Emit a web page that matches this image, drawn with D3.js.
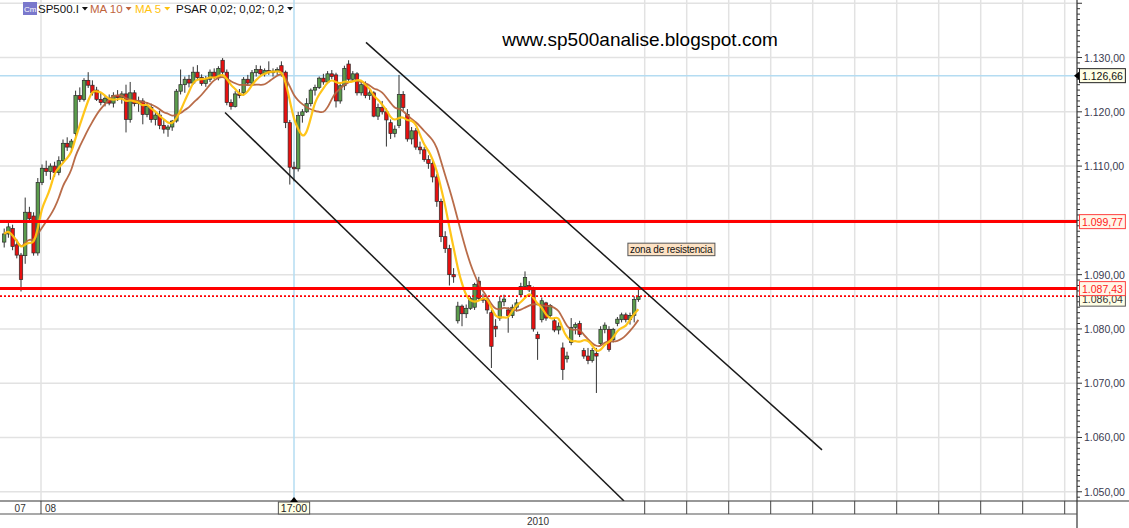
<!DOCTYPE html>
<html><head><meta charset="utf-8">
<script src="https://cdn.jsdelivr.net/npm/d3@7"></script>
<style>
body{margin:0;background:#fff;}
svg{display:block;font-family:"Liberation Sans",Arial,sans-serif;}
</style>
</head><body>
<svg id="c" width="1129" height="528"></svg>
<script>
// ---------- DATA ----------
const firstBar = 1;
const opens = [
1096.0,1097.5,1098.5,1095.5,1093.6,1093.5,1101.5,1100.8,1094.0,1107.0,
1109.6,1109.0,1110.0,1108.8,1111.0,1114.2,1113.5,1116.0,1123.0,1122.3,
1125.8,1124.9,1124.0,1122.3,1121.7,1122.5,1121.6,1123.0,1122.6,1123.3,
1118.6,1123.5,1121.5,1122.0,1119.5,1120.8,1118.6,1119.4,1117.5,1116.8,
1117.2,1118.3,1123.8,1125.0,1126.0,1125.3,1127.3,1126.3,1125.2,1126.0,
1127.3,1126.3,1129.5,1127.3,1121.7,1121.0,1123.3,1123.5,1126.0,1125.3,
1127.2,1127.8,1127.0,1127.6,1127.2,1127.5,1128.5,1127.3,1118.0,1109.8,
1109.5,1119.3,1120.0,1121.5,1124.0,1124.5,1126.2,1125.5,1127.0,1126.8,
1122.0,1124.8,1128.8,1126.0,1127.0,1123.5,1125.0,1123.0,1123.5,1119.2,
1120.8,1120.0,1118.0,1116.0,1117.5,1123.2,1119.5,1115.0,1116.5,1113.5,
1113.0,1111.2,1110.5,1108.0,1103.5,1097.0,1094.8,1090.0,1081.5,1084.2,
1082.8,1083.8,1084.0,1088.8,1085.6,1085.3,1083.0,1080.5,1082.0,1085.0,
1083.5,1082.5,1084.0,1086.3,1087.8,1088.0,1087.2,1079.0,1081.7,1084.8,
1082.5,1081.5,1079.8,1076.5,1074.5,1077.5,1080.3,1081.0,1076.0,1075.0,
1074.2,1075.5,1077.3,1079.9,1079.9,1078.0,1081.0,1081.7,1082.6,1081.7,
1082.5,1085.4];
const highs = [
1098.5,1099.5,1099.2,1096.5,1094.0,1104.2,1102.5,1101.5,1107.8,1110.3,
1111.0,1110.5,1110.8,1111.8,1114.9,1115.3,1115.0,1123.9,1124.5,1126.2,
1127.3,1125.8,1124.6,1123.5,1123.0,1123.2,1123.6,1124.0,1123.8,1125.0,
1125.5,1124.0,1122.8,1122.5,1121.8,1121.5,1120.0,1120.2,1118.5,1117.6,
1118.5,1124.2,1127.8,1126.5,1126.8,1128.3,1128.6,1126.9,1126.6,1127.8,
1128.0,1128.4,1129.9,1127.8,1122.3,1123.8,1124.2,1126.4,1126.8,1127.7,
1128.6,1128.5,1128.0,1129.3,1128.0,1128.2,1129.3,1127.6,1118.5,1110.8,
1120.0,1120.5,1122.5,1124.3,1125.0,1126.5,1127.0,1127.5,1127.7,1127.2,
1125.5,1128.5,1129.5,1127.5,1127.3,1125.5,1125.6,1124.0,1123.8,1121.5,
1122.0,1120.6,1118.6,1117.5,1126.8,1123.8,1120.5,1117.2,1117.0,1114.5,
1113.5,1112.0,1111.0,1108.5,1104.0,1098.0,1095.5,1091.2,1085.0,1084.5,
1084.5,1086.0,1088.5,1089.6,1086.5,1085.8,1083.5,1081.8,1086.0,1086.3,
1084.0,1084.5,1085.5,1088.5,1090.6,1088.8,1087.8,1079.5,1085.8,1085.0,
1084.6,1082.0,1081.2,1077.5,1075.8,1082.0,1081.2,1081.5,1076.5,1076.5,
1076.5,1076.5,1080.5,1081.2,1080.5,1080.2,1082.2,1083.0,1083.0,1083.0,
1086.0,1087.6];
const lows = [
1095.0,1096.8,1094.5,1093.0,1086.9,1092.0,1099.8,1093.5,1093.5,1106.5,
1108.2,1107.5,1108.0,1108.3,1110.5,1112.8,1112.5,1115.5,1121.8,1121.9,
1124.4,1123.0,1122.0,1121.2,1121.0,1121.2,1120.8,1122.0,1121.5,1116.2,
1118.0,1121.0,1120.0,1117.7,1119.0,1118.0,1117.5,1116.8,1116.0,1115.4,
1116.5,1118.0,1123.2,1123.5,1124.5,1125.0,1126.0,1124.8,1124.6,1125.5,
1126.0,1125.8,1126.8,1121.2,1120.4,1120.8,1122.5,1123.0,1124.8,1125.0,
1126.5,1126.8,1126.5,1126.8,1126.5,1126.8,1126.5,1117.0,1106.6,1107.2,
1109.0,1118.0,1119.8,1121.0,1123.0,1124.2,1125.0,1125.2,1126.0,1120.8,
1121.5,1124.0,1125.5,1125.5,1123.0,1123.0,1122.5,1122.2,1119.0,1118.5,
1119.5,1113.6,1115.0,1115.3,1117.0,1120.2,1114.5,1114.0,1113.0,1112.2,
1110.8,1109.5,1107.0,1102.5,1096.0,1094.0,1088.0,1088.5,1081.0,1080.5,
1082.0,1083.5,1083.5,1085.2,1084.8,1082.8,1072.8,1078.5,1081.5,1084.2,
1079.3,1082.0,1083.2,1085.8,1087.3,1086.8,1079.5,1074.3,1081.2,1081.5,
1082.0,1079.4,1079.0,1070.6,1073.8,1077.0,1079.0,1078.5,1074.5,1073.5,
1073.8,1068.2,1077.0,1079.2,1075.8,1077.5,1080.5,1081.2,1081.2,1080.8,
1081.2,1085.0];
const closes = [
1097.5,1098.8,1095.2,1093.6,1089.1,1101.5,1100.3,1094.0,1107.0,1109.6,
1109.0,1110.0,1108.8,1111.0,1114.2,1113.5,1114.6,1123.0,1122.3,1125.8,
1124.9,1123.5,1122.3,1121.7,1122.5,1121.6,1123.0,1122.6,1123.3,1118.6,
1123.5,1121.5,1122.0,1119.5,1121.0,1118.6,1119.4,1117.5,1116.8,1117.2,
1118.3,1123.8,1125.0,1126.0,1125.3,1127.3,1126.3,1125.2,1126.0,1127.3,
1126.3,1128.0,1127.3,1121.7,1121.0,1123.3,1123.0,1126.0,1125.3,1127.2,
1127.8,1127.0,1127.6,1127.2,1127.5,1127.8,1127.3,1118.0,1109.8,1109.5,
1119.3,1120.0,1121.5,1124.0,1124.5,1126.2,1125.5,1127.0,1126.5,1122.0,
1124.8,1128.0,1126.0,1127.0,1123.5,1125.0,1123.0,1123.5,1119.2,1120.8,
1120.0,1118.5,1116.0,1116.8,1123.2,1120.8,1115.0,1116.5,1113.5,1113.0,
1111.2,1110.5,1108.0,1103.5,1097.0,1094.8,1090.0,1089.6,1084.2,1082.8,
1083.8,1085.6,1088.2,1085.6,1085.3,1083.5,1076.8,1080.0,1085.0,1085.5,
1082.5,1084.0,1084.8,1087.8,1089.5,1087.2,1080.0,1078.2,1085.2,1082.0,
1084.3,1079.8,1080.5,1072.5,1075.0,1080.3,1080.8,1079.0,1075.0,1074.2,
1076.0,1075.0,1079.9,1080.7,1076.2,1079.9,1081.8,1082.6,1081.7,1082.5,
1085.4,1086.0];

const maPeriods = [10, 5];
const legendItems = ["SP500.I", "MA 10", "MA 5", "PSAR 0,02; 0,02; 0,2"];
const priceGrid = [1050,1060,1070,1080,1090,1100,1110,1120,1130,1140];
const priceLabels = [1050,1060,1070,1080,1090,1100,1110,1120,1130];
const levels = [1099.77, 1087.43];
const dottedLevel = 1086.04;
const crossPrice = 1126.66;
const crossBar = 70;
const crossLabel = "17:00";
const dayLabels = ["07", "08"];
const dayLabelBars = [4.8, 10.7];
const daySeparators = [9.76];
const futureGrid = [153.5,163.5,173.5,183.5,193.5,203.5,213.5,223.5,233.5,243.5,253.5];
const yearLabel = "2010";
const yearBar = 128.1;
const upperTrend = [[87.14, 1132.8], [195.71, 1057.71]];
const lowerTrend = [[53.57, 1119.89], [148.57, 1048.3]];
const noteText = "zona de resistencia";
const notePos = [149.5, 1095.8];
const titleText = "www.sp500analise.blogspot.com";

// ---------- SETUP ----------
const svg = d3.select("#c");
const plotR = 1077, plotB = 501, rowB = 514;
const x = d3.scaleLinear().domain([0, 256]).range([0, 1075.2]);
const y = d3.scaleLinear().domain([1048.3, 1140.6]).range([plotB, 0]);
const loc = d3.formatLocale({decimal: ",", thousands: ".", grouping: [3], currency: ["", ""]});
const fmt = loc.format(",.2f");

const bars = closes.map((c, k) => ({i: k + firstBar, o: opens[k], h: highs[k], l: lows[k], c}));

svg.append("defs").append("clipPath").attr("id", "clip")
  .append("rect").attr("x", 0).attr("y", 0).attr("width", plotR).attr("height", plotB);

const plot = svg.append("g").attr("clip-path", "url(#clip)");

// grid
plot.selectAll("line.hg").data(priceGrid).join("line")
  .attr("x1", 0).attr("x2", plotR).attr("y1", d => y(d)).attr("y2", d => y(d))
  .attr("stroke", "#e2e2e2").attr("stroke-width", 1.5);
plot.selectAll("line.vg").data(daySeparators.concat(futureGrid)).join("line")
  .attr("x1", d => x(d)).attr("x2", d => x(d)).attr("y1", 0).attr("y2", plotB)
  .attr("stroke", "#e2e2e2").attr("stroke-width", 1.5);

// crosshair
plot.append("line").attr("x1", 0).attr("x2", plotR).attr("y1", y(crossPrice)).attr("y2", y(crossPrice))
  .attr("stroke", "#b4dcf2").attr("stroke-width", 1.5);
plot.append("line").attr("x1", x(crossBar)).attr("x2", x(crossBar)).attr("y1", 0).attr("y2", plotB)
  .attr("stroke", "#b4dcf2").attr("stroke-width", 1.5);

// candles
const cg = plot.append("g");
cg.selectAll("line.w").data(bars).join("line")
  .attr("x1", d => x(d.i)).attr("x2", d => x(d.i))
  .attr("y1", d => y(d.h)).attr("y2", d => y(d.l))
  .attr("stroke", "#333").attr("stroke-width", 1);
cg.selectAll("rect").data(bars).join("rect")
  .attr("x", d => x(d.i) - 1.7).attr("width", 3.4)
  .attr("y", d => y(Math.max(d.o, d.c)))
  .attr("height", d => Math.max(1, Math.abs(y(d.o) - y(d.c))))
  .attr("fill", d => d.c >= d.o ? "#5b9c4c" : "#e81010")
  .attr("stroke", "#2a2a2a").attr("stroke-width", 0.7);

// moving averages
function sma(arr, n) {
  return arr.map((_, k) => d3.mean(arr.slice(Math.max(0, k - n + 1), k + 1)));
}
const maColors = ["#b5643f", "#ffc20e"];
const maWidths = [1.8, 2.2];
maPeriods.forEach((p, j) => {
  const vals = sma(closes, p);
  const line = d3.line().x((d, k) => x(k + firstBar)).y(d => y(d)).curve(d3.curveBasis);
  plot.append("path").datum(vals).attr("d", line).attr("fill", "none")
    .attr("stroke", maColors[j]).attr("stroke-width", maWidths[j]).attr("stroke-opacity", 0.95);
});

// resistance levels
plot.selectAll("line.lv").data(levels).join("line")
  .attr("x1", 0).attr("x2", plotR).attr("y1", d => y(d)).attr("y2", d => y(d))
  .attr("stroke", "#ff0000").attr("stroke-width", 3);
plot.append("line").attr("x1", 0).attr("x2", plotR).attr("y1", y(dottedLevel)).attr("y2", y(dottedLevel))
  .attr("stroke", "#ff0000").attr("stroke-width", 1.6).attr("stroke-dasharray", "2,2");

// trend lines
[upperTrend, lowerTrend].forEach(t => {
  plot.append("line")
    .attr("x1", x(t[0][0])).attr("y1", y(t[0][1]))
    .attr("x2", x(t[1][0])).attr("y2", y(t[1][1]))
    .attr("stroke", "#1a1a1a").attr("stroke-width", 1.5);
});

// annotation
const ng = svg.append("g");
const nt = ng.append("text").attr("x", x(notePos[0]) + 2).attr("y", y(notePos[1]) + 9.5)
  .attr("font-size", 10).attr("fill", "#111").attr("letter-spacing", -0.2).text(noteText);
const nb = nt.node().getBBox();
ng.insert("rect", "text").attr("x", x(notePos[0])).attr("y", y(notePos[1]))
  .attr("width", nb.width + 4).attr("height", 12.5)
  .attr("fill", "#fde2c4").attr("stroke", "#555").attr("stroke-width", 1);

// title
svg.append("text").attr("x", 640).attr("y", 46).attr("text-anchor", "middle")
  .attr("font-size", 19).attr("fill", "#000").text(titleText);

// legend
const lg = svg.append("g");
lg.append("rect").attr("x", 23).attr("y", 2).attr("width", 14).attr("height", 13).attr("fill", "#7a78cc");
lg.append("text").attr("x", 24).attr("y", 12).attr("font-size", 8).attr("fill", "#fff").text("Cm");
const legendX = [38, 90, 135, 176];
const legendColors = ["#111", "#c0643c", "#ffc20e", "#111"];
legendItems.forEach((t, j) => {
  const tx = lg.append("text").attr("x", legendX[j]).attr("y", 12.5).attr("font-size", 11.5)
    .attr("fill", legendColors[j]).text(t);
  const w = tx.node().getComputedTextLength();
  const ax = legendX[j] + w + 6;
  lg.append("path").attr("d", `M${ax-3},7 L${ax+3},7 L${ax},10.5 Z`).attr("fill", legendColors[j]);
});

// ---------- RIGHT AXIS ----------
const ax = svg.append("g");
ax.append("line").attr("x1", plotR).attr("x2", plotR).attr("y1", 0).attr("y2", 528)
  .attr("stroke", "#333").attr("stroke-width", 1.2);
const minor = d3.range(1049, 1141, 1);
ax.selectAll("line.mt").data(minor).join("line")
  .attr("x1", plotR).attr("x2", d => plotR + (d % 10 === 0 ? 5 : 3))
  .attr("y1", d => y(d)).attr("y2", d => y(d)).attr("stroke", "#333").attr("stroke-width", 1);
ax.selectAll("text.pl").data(priceLabels).join("text")
  .attr("x", 1084).attr("y", d => y(d) + 4).attr("font-size", 10.5).attr("fill", "#3a3a50")
  .text(d => fmt(d));

// price tags
function tag(val, color, fill, border, dy) {
  const g = ax.append("g");
  const t = g.append("text").attr("x", 1082).attr("y", y(val) + 4 + dy).attr("font-size", 10.5)
    .attr("fill", color).text(fmt(val));
  const w = t.node().getComputedTextLength();
  g.insert("rect", "text").attr("x", 1079.5).attr("y", y(val) - 7 + dy).attr("width", w + 5).attr("height", 14)
    .attr("fill", fill).attr("stroke", border).attr("stroke-width", 1);
}
tag(dottedLevel, "#333", "#ffffe6", "#555", 3);
tag(levels[1], "#ff2020", "#fff6e8", "#ff4040", 0);
tag(levels[0], "#ff2020", "#fff6e8", "#ff4040", 0);
tag(crossPrice, "#111", "#ffffe6", "#222", 0);
ax.append("path").attr("d", `M${plotR-3},${y(crossPrice)} L${plotR+2},${y(crossPrice)-4} L${plotR+2},${y(crossPrice)+4} Z`).attr("fill", "#000");

// ---------- BOTTOM AXIS ----------
const bx = svg.append("g");
bx.append("line").attr("x1", 0).attr("x2", 1129).attr("y1", plotB).attr("y2", plotB).attr("stroke", "#333").attr("stroke-width", 1.2);
bx.append("line").attr("x1", 0).attr("x2", plotR).attr("y1", rowB).attr("y2", rowB).attr("stroke", "#555").attr("stroke-width", 1.2);
bx.selectAll("line.sep").data(daySeparators.concat(futureGrid)).join("line")
  .attr("x1", d => x(d)).attr("x2", d => x(d)).attr("y1", plotB).attr("y2", rowB)
  .attr("stroke", "#444").attr("stroke-width", 1);
dayLabels.forEach((t, j) => {
  bx.append("text").attr("x", x(dayLabelBars[j])).attr("y", 511.5).attr("font-size", 10)
    .attr("text-anchor", j === 0 ? "middle" : "start").attr("fill", "#333").text(t);
});
// crosshair time tag
const ct = bx.append("text").attr("x", x(crossBar)).attr("y", 511.5).attr("font-size", 10.5)
  .attr("text-anchor", "middle").attr("fill", "#222").text(crossLabel);
const cw = ct.node().getComputedTextLength();
bx.insert("rect", "text:last-of-type").attr("x", x(crossBar) - cw / 2 - 2.5).attr("y", plotB + 1)
  .attr("width", cw + 5).attr("height", rowB - plotB - 1).attr("fill", "#ffffe6").attr("stroke", "#555");
ct.raise();
bx.append("path").attr("d", `M${x(crossBar)-4},${plotB+1} L${x(crossBar)},${plotB-4} L${x(crossBar)+4},${plotB+1} Z`).attr("fill", "#000");
bx.append("text").attr("x", x(yearBar)).attr("y", 525).attr("font-size", 10)
  .attr("text-anchor", "middle").attr("fill", "#333").text(yearLabel);
</script>
</body></html>
